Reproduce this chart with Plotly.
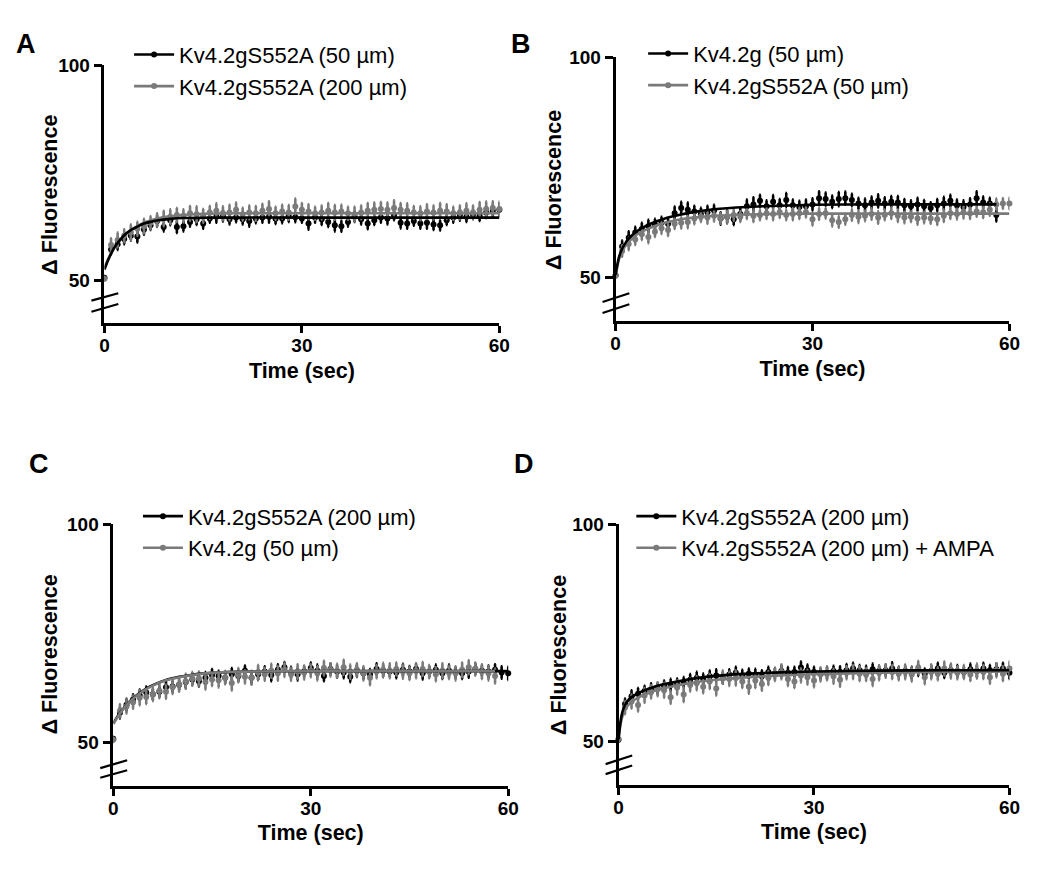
import plotly.graph_objects as go

# ---------------- data ----------------
TIME_61 = list(range(0, 61))   # 0..60 s, 1 s sampling
TIME_59 = list(range(0, 59))   # 0..58 s

# Panel A
A_LABELS = ["Kv4.2gS552A (50 µm)", "Kv4.2gS552A (200 µm)"]
A_black = [50.6, 57.2, 58.4, 59.6, 60.4, 60.2, 61.8, 62.8, 63.8, 62.4,
           64.0, 62.4, 62.6, 63.6, 64.2, 63.2, 64.4, 64.8, 65.0, 64.2,
           64.6, 64.2, 63.8, 64.4, 64.6, 64.8, 64.3, 64.4, 64.9, 64.7,
           64.4, 63.2, 64.6, 64.2, 63.6, 62.8, 62.6, 63.6, 64.8, 64.2,
           63.2, 64.0, 64.6, 64.4, 65.2, 63.4, 63.2, 63.8, 63.2, 63.4,
           63.0, 62.8, 64.0, 64.6, 65.2, 64.8, 65.4, 65.0, 65.8, 66.2,
           66.4]
A_black_err = [0.4, 1.2, 1.3, 1.2, 1.1, 1.4, 1.2, 1.1, 1.3, 1.0,
               1.2, 1.4, 1.2, 1.1, 1.3, 1.2, 1.0, 1.4, 1.3, 1.2,
               1.1, 1.2, 1.3, 1.1, 1.2, 1.4, 1.2, 1.1, 1.3, 1.2,
               1.0, 1.4, 1.2, 1.3, 1.2, 1.4, 1.3, 1.1, 1.2, 1.2,
               1.3, 1.1, 1.2, 1.4, 1.2, 1.3, 1.2, 1.1, 1.2, 1.4,
               1.3, 1.2, 1.1, 1.2, 1.3, 1.2, 1.1, 1.2, 1.3, 1.4,
               1.5]
A_gray = [50.4, 58.2, 59.4, 60.4, 61.2, 62.0, 62.6, 63.4, 64.0, 64.4,
          64.8, 65.2, 65.0, 65.6, 65.4, 65.0, 65.8, 66.2, 65.6, 65.8,
          66.4, 65.4, 65.8, 65.6, 66.2, 66.6, 65.6, 66.0, 65.8, 67.2,
          66.4, 66.0, 65.6, 65.8, 66.2, 65.8, 66.0, 65.6, 65.4, 65.8,
          66.2, 66.4, 66.6, 66.4, 66.8, 66.4, 66.2, 65.8, 65.6, 66.0,
          65.8, 66.2, 66.0, 65.6, 65.8, 66.2, 65.8, 66.4, 66.6, 66.8,
          66.6]
A_gray_err = [0.5, 1.6, 1.7, 1.5, 1.8, 1.6, 1.7, 1.5, 1.6, 1.8,
              1.7, 1.6, 1.5, 1.7, 1.8, 1.6, 1.5, 1.7, 1.6, 1.8,
              1.7, 1.5, 1.6, 1.7, 1.6, 1.8, 1.5, 1.6, 1.7, 1.8,
              1.6, 1.7, 1.5, 1.6, 1.8, 1.7, 1.6, 1.5, 1.7, 1.6,
              1.8, 1.7, 1.6, 1.7, 1.8, 1.6, 1.7, 1.5, 1.6, 1.7,
              1.6, 1.8, 1.7, 1.5, 1.6, 1.7, 1.6, 1.8, 1.7, 1.6,
              1.7]
A_fit_t = [0, 0.5, 1, 1.5, 2, 3, 4, 5, 6, 7, 8, 10, 12, 15, 20, 30, 40, 50, 60]
A_black_fit = [52.5, 54.5, 56.2, 57.6, 58.7, 60.5, 61.7, 62.5, 63.2, 63.6,
               63.9, 64.3, 64.5, 64.55, 64.6, 64.6, 64.6, 64.6, 64.6]
A_gray_fit = [53.0, 54.8, 56.3, 57.6, 58.7, 60.4, 61.7, 62.6, 63.4, 63.9,
              64.4, 64.9, 65.2, 65.5, 65.6, 65.6, 65.6, 65.6, 65.6]

# Panel B
B_LABELS = ["Kv4.2g (50 µm)", "Kv4.2gS552A (50 µm)"]
B_black = [50.5, 57.0, 59.0, 60.2, 61.0, 61.6, 62.0, 62.4, 62.2, 64.6,
           65.8, 65.4, 65.0, 64.4, 64.8, 65.2, 63.4, 63.8, 63.2, 64.4,
           66.2, 66.6, 67.4, 66.2, 67.2, 66.4, 67.6, 66.4, 66.0, 66.2,
           66.6, 68.0, 67.8, 67.2, 67.8, 68.0, 67.6, 66.8, 66.4, 67.0,
           67.4, 66.8, 67.2, 67.0, 66.4, 66.2, 66.6, 66.2, 65.8, 66.4,
           66.8, 67.4, 66.4, 66.0, 66.6, 68.0, 67.0, 66.8, 64.2]
B_black_err = [0.4, 1.4, 1.5, 1.3, 1.4, 1.5, 1.3, 1.4, 1.2, 1.5,
               1.4, 1.6, 1.3, 1.4, 1.5, 1.3, 1.4, 1.5, 1.3, 1.4,
               1.5, 1.6, 1.4, 1.3, 1.5, 1.4, 1.6, 1.3, 1.4, 1.5,
               1.4, 1.6, 1.5, 1.4, 1.6, 1.5, 1.4, 1.3, 1.5, 1.4,
               1.5, 1.4, 1.3, 1.5, 1.4, 1.3, 1.5, 1.4, 1.3, 1.4,
               1.5, 1.4, 1.3, 1.5, 1.4, 1.6, 1.4, 1.3, 1.5]
B_gray = [50.4, 56.0, 57.6, 58.6, 59.8, 59.2, 60.4, 61.2, 60.8, 62.2,
          62.4, 62.6, 63.4, 63.8, 63.6, 64.0, 63.4, 63.8, 64.2, 63.8,
          64.6, 64.0, 64.2, 64.6, 64.4, 64.8, 64.2, 64.4, 64.6, 64.8,
          63.2, 64.4, 64.6, 63.0, 62.6, 63.2, 64.2, 63.8, 64.0, 64.4,
          63.6, 64.2, 64.6, 64.0, 63.6, 63.8, 63.4, 63.6, 63.4, 63.2,
          64.0, 64.6, 64.4, 64.8, 64.6, 65.0, 64.8, 65.4, 66.6, 66.8,
          66.8]
B_gray_err = [0.4, 1.3, 1.4, 1.2, 1.3, 1.4, 1.2, 1.3, 1.4, 1.2,
              1.3, 1.4, 1.3, 1.2, 1.4, 1.3, 1.2, 1.4, 1.3, 1.2,
              1.3, 1.4, 1.2, 1.3, 1.4, 1.3, 1.2, 1.4, 1.3, 1.2,
              1.4, 1.3, 1.2, 1.4, 1.3, 1.2, 1.3, 1.4, 1.2, 1.3,
              1.4, 1.2, 1.3, 1.4, 1.3, 1.2, 1.4, 1.3, 1.2, 1.3,
              1.4, 1.3, 1.2, 1.4, 1.3, 1.2, 1.3, 1.4, 1.3, 1.2,
              1.3]
B_black_fit_t = [0, 0.5, 1, 1.5, 2, 3, 4, 5, 6, 7, 8, 10, 12, 15, 20, 25, 30, 40, 50, 58]
B_black_fit = [50.6, 54.5, 56.5, 57.8, 58.8, 60.2, 61.2, 62.0, 62.6, 63.1,
               63.6, 64.3, 64.9, 65.5, 66.0, 66.3, 66.5, 66.6, 66.6, 66.6]
B_gray_fit_t = [0, 0.5, 1, 1.5, 2, 3, 4, 5, 6, 7, 8, 10, 12, 15, 20, 25, 30, 40, 50, 60]
B_gray_fit = [50.4, 54.0, 55.9, 57.2, 58.1, 59.5, 60.4, 61.1, 61.7, 62.2,
              62.6, 63.2, 63.6, 64.0, 64.3, 64.4, 64.5, 64.5, 64.5, 64.5]

# Panel C
C_LABELS = ["Kv4.2gS552A (200 µm)", "Kv4.2g (50 µm)"]
C_black = [50.8, 56.8, 58.6, 59.8, 60.8, 61.4, 61.0, 61.6, 62.6, 62.8,
           63.2, 63.8, 64.4, 64.0, 64.8, 65.4, 65.2, 64.8, 65.6, 65.2,
           66.4, 64.8, 65.6, 66.2, 65.4, 66.6, 67.2, 66.0, 65.6, 66.2,
           67.0, 66.4, 65.2, 66.8, 66.2, 66.0, 65.0, 66.4, 65.8, 65.6,
           66.8, 66.4, 66.2, 66.0, 66.6, 66.2, 66.8, 65.8, 66.2, 66.6,
           65.8, 66.4, 66.0, 65.8, 66.2, 66.8, 66.4, 66.2, 66.6, 66.0,
           65.8]
C_black_err = [0.4, 1.3, 1.4, 1.2, 1.3, 1.4, 1.3, 1.2, 1.4, 1.3,
               1.2, 1.4, 1.3, 1.2, 1.3, 1.4, 1.2, 1.3, 1.4, 1.3,
               1.2, 1.4, 1.3, 1.2, 1.4, 1.3, 1.2, 1.3, 1.4, 1.2,
               1.3, 1.4, 1.2, 1.3, 1.4, 1.3, 1.2, 1.4, 1.3, 1.2,
               1.3, 1.4, 1.2, 1.3, 1.4, 1.3, 1.2, 1.4, 1.3, 1.2,
               1.3, 1.4, 1.2, 1.3, 1.4, 1.3, 1.2, 1.4, 1.3, 1.4,
               1.5]
C_gray = [50.6, 57.2, 58.2, 59.2, 60.2, 60.4, 61.0, 61.8, 61.6, 62.6,
          63.2, 64.0, 64.6, 64.6, 63.8, 64.4, 64.2, 64.8, 63.6, 65.4,
          65.0, 64.8, 66.0, 65.6, 66.4, 65.8, 66.6, 65.6, 66.2, 66.0,
          66.4, 65.8, 67.0, 66.6, 66.4, 67.2, 66.2, 66.6, 65.8, 64.8,
          66.2, 66.6, 66.4, 66.8, 66.2, 65.8, 66.4, 66.8, 66.2, 65.6,
          66.4, 66.0, 65.8, 66.6, 67.2, 66.8, 66.2, 65.8, 65.2]
C_gray_err = [0.5, 1.5, 1.6, 1.5, 1.7, 1.6, 1.5, 1.7, 1.6, 1.5,
              1.6, 1.7, 1.5, 1.6, 1.7, 1.5, 1.6, 1.5, 1.7, 1.6,
              1.5, 1.6, 1.7, 1.5, 1.6, 1.7, 1.6, 1.5, 1.7, 1.6,
              1.5, 1.6, 1.7, 1.5, 1.6, 1.7, 1.6, 1.5, 1.6, 1.7,
              1.5, 1.6, 1.7, 1.5, 1.6, 1.5, 1.7, 1.6, 1.5, 1.6,
              1.7, 1.5, 1.6, 1.7, 1.6, 1.5, 1.7, 1.6, 1.7]
C_black_fit_t = [0, 1, 2, 3, 4, 5, 6, 8, 10, 12, 15, 20, 30, 45, 60]
C_black_fit = [54.4, 56.7, 58.6, 60.1, 61.3, 62.3, 63.1, 64.3, 65.0, 65.5,
               65.9, 66.2, 66.3, 66.3, 66.3]
C_gray_fit_t = [0, 1, 2, 3, 4, 5, 6, 8, 10, 12, 15, 20, 30, 45, 58]
C_gray_fit = [54.2, 56.6, 58.5, 60.0, 61.2, 62.2, 63.0, 64.2, 64.9, 65.4,
              65.9, 66.2, 66.3, 66.3, 66.3]

# Panel D
D_LABELS = ["Kv4.2gS552A (200 µm)", "Kv4.2gS552A (200 µm) + AMPA"]
D_black = [50.4, 58.6, 60.4, 61.0, 61.6, 62.0, 62.2, 62.8, 63.0, 63.2,
           63.6, 64.2, 64.6, 64.4, 65.0, 65.2, 64.6, 65.4, 65.8, 65.2,
           65.6, 65.4, 65.0, 66.0, 65.6, 66.2, 65.8, 66.0, 67.0, 66.4,
           66.0, 65.6, 65.8, 66.2, 66.0, 66.4, 66.8, 66.4, 66.0, 66.6,
           66.2, 66.4, 66.8, 66.0, 66.2, 65.8, 66.4, 65.6, 66.2, 66.8,
           65.8, 66.4, 66.2, 66.0, 66.6, 66.2, 66.8, 66.4, 66.6, 66.8,
           65.8]
D_black_err = [0.4, 1.3, 1.4, 1.3, 1.2, 1.4, 1.3, 1.2, 1.4, 1.3,
               1.2, 1.3, 1.4, 1.2, 1.3, 1.4, 1.3, 1.2, 1.4, 1.3,
               1.2, 1.3, 1.4, 1.2, 1.3, 1.4, 1.3, 1.2, 1.4, 1.3,
               1.2, 1.3, 1.4, 1.2, 1.3, 1.4, 1.3, 1.2, 1.4, 1.3,
               1.2, 1.3, 1.4, 1.2, 1.3, 1.4, 1.3, 1.2, 1.4, 1.3,
               1.2, 1.3, 1.4, 1.2, 1.3, 1.4, 1.3, 1.2, 1.4, 1.3,
               1.4]
D_gray = [50.6, 57.8, 59.2, 58.4, 60.6, 61.4, 62.0, 61.8, 60.2, 62.4,
          60.8, 63.0, 63.4, 62.6, 63.8, 62.2, 64.8, 64.4, 64.6, 63.8,
          62.6, 64.0, 63.2, 64.6, 65.4, 66.0, 64.4, 63.8, 65.2, 64.8,
          64.0, 65.4, 65.6, 65.0, 64.2, 65.8, 66.0, 65.6, 65.4, 64.4,
          65.8, 66.2, 66.0, 65.6, 66.0, 65.4, 67.0, 64.8, 66.0, 65.6,
          66.8, 66.2, 65.8, 66.0, 65.4, 66.2, 66.0, 64.8, 66.4, 65.6,
          66.8]
D_gray_err = [0.5, 1.5, 1.6, 1.5, 1.7, 1.5, 1.6, 1.7, 1.5, 1.6,
              1.7, 1.5, 1.6, 1.5, 1.7, 1.6, 1.5, 1.6, 1.7, 1.5,
              1.6, 1.7, 1.5, 1.6, 1.5, 1.7, 1.6, 1.5, 1.6, 1.7,
              1.5, 1.6, 1.5, 1.7, 1.6, 1.5, 1.6, 1.7, 1.5, 1.6,
              1.7, 1.5, 1.6, 1.5, 1.7, 1.6, 1.5, 1.6, 1.7, 1.5,
              1.6, 1.7, 1.5, 1.6, 1.5, 1.7, 1.6, 1.5, 1.6, 1.7,
              1.6]
D_fit_t = [0, 0.3, 0.6, 1, 1.5, 2, 3, 4, 5, 6, 8, 10, 12, 15, 20, 25, 30, 40, 50, 60]
D_black_fit = [50.5, 54.5, 56.8, 58.4, 59.5, 60.2, 61.1, 61.8, 62.3, 62.8,
               63.5, 64.1, 64.6, 65.1, 65.6, 65.9, 66.1, 66.3, 66.4, 66.4]
D_gray_fit = [50.5, 53.8, 55.8, 57.3, 58.4, 59.1, 60.1, 60.8, 61.4, 61.9,
              62.6, 63.2, 63.7, 64.2, 64.8, 65.2, 65.5, 65.8, 66.0, 66.1]

PANEL_LETTERS = ["A", "B", "C", "D"]
X_TICKS = [0, 30, 60]
Y_TICKS = [50, 100]
X_TITLE = "Time (sec)"
Y_TITLE = "Δ Fluorescence"

# ---------------- styling / layout ----------------
BLACK = "#000000"
GRAY = "#7a7a7a"
FONT = "Liberation Sans, Arial, Helvetica, sans-serif"
W, H = 1050, 872

panels = [
    dict(letter=PANEL_LETTERS[0], labels=A_LABELS,
         black=(TIME_61, A_black, A_black_err), gray=(TIME_61, A_gray, A_gray_err),
         bfit=(A_fit_t, A_black_fit), gfit=(A_fit_t, A_gray_fit), fit_order="gb",
         dom_px=(101, 502, 56, 317), leg_px=(126, 24), letter_px=(21, 34),
         ytitle_px=(45.5, 187), brk=((45.3, 47.0), (42.7, 44.5))),
    dict(letter=PANEL_LETTERS[1], labels=B_LABELS,
         black=(TIME_59, B_black, B_black_err), gray=(TIME_61, B_gray, B_gray_err),
         bfit=(B_black_fit_t, B_black_fit), gfit=(B_gray_fit_t, B_gray_fit), fit_order="gb",
         dom_px=(620, 1020, 48, 315), leg_px=(648, 23), letter_px=(524, 34),
         ytitle_px=(557.5, 182), brk=((44.4, 46.4), (41.9, 43.9))),
    dict(letter=PANEL_LETTERS[2], labels=C_LABELS,
         black=(TIME_61, C_black, C_black_err), gray=(TIME_59, C_gray, C_gray_err),
         bfit=(C_black_fit_t, C_black_fit), gfit=(C_gray_fit_t, C_gray_fit), fit_order="bg",
         dom_px=(110, 511, 520, 785), leg_px=(135, 491), letter_px=(35, 459),
         ytitle_px=(45.5, 652), brk=((44.1, 45.9), (41.9, 43.6))),
    dict(letter=PANEL_LETTERS[3], labels=D_LABELS,
         black=(TIME_61, D_black, D_black_err), gray=(TIME_61, D_gray, D_gray_err),
         bfit=(D_fit_t, D_black_fit), gfit=(D_fit_t, D_gray_fit), fit_order="gb",
         dom_px=(623, 1020, 520, 784), leg_px=(636, 491), letter_px=(527, 459),
         ytitle_px=(562, 652), brk=((44.8, 46.8), (42.5, 44.5))),
]

fig = go.Figure()
layout = dict(
    width=W, height=H, margin=dict(l=0, r=0, t=0, b=0),
    paper_bgcolor="white", plot_bgcolor="white",
    font=dict(family=FONT, color=BLACK),
    annotations=[], shapes=[],
)

for i, p in enumerate(panels):
    n = i + 1
    sfx = "" if n == 1 else str(n)
    xa, ya = "x" + sfx, "y" + sfx
    legname = "legend" + sfx
    x0, x1, y0, y1 = p["dom_px"]

    def data_trace(series, color):
        t, v, e = series
        return go.Scatter(
            x=t, y=v, xaxis=xa, yaxis=ya, mode="markers", showlegend=False,
            marker=dict(color=color, size=6),
            error_y=dict(type="data", array=e, visible=True, color=color,
                         thickness=2.6, width=0.8),
            cliponaxis=False, hoverinfo="skip")

    def fit_trace(series, color):
        t, v = series
        return go.Scatter(
            x=t, y=v, xaxis=xa, yaxis=ya, mode="lines", showlegend=False,
            line=dict(color=color, width=2.6, shape="spline", smoothing=0.6),
            cliponaxis=False, hoverinfo="skip")

    fig.add_trace(data_trace(p["black"], BLACK))
    fig.add_trace(data_trace(p["gray"], GRAY))
    fits = {"b": fit_trace(p["bfit"], BLACK), "g": fit_trace(p["gfit"], GRAY)}
    for k in p["fit_order"]:
        fig.add_trace(fits[k])

    # legend entries (line with a dot, as in the reference)
    for lab, col in zip(p["labels"], [BLACK, GRAY]):
        fig.add_trace(go.Scatter(
            x=[None], y=[None], xaxis=xa, yaxis=ya, mode="lines+markers",
            name=lab, legend=legname,
            line=dict(color=col, width=2.6), marker=dict(color=col, size=6)))

    layout[legname] = dict(
        x=p["leg_px"][0] / W, y=1 - p["leg_px"][1] / H,
        xanchor="left", yanchor="top", bgcolor="rgba(0,0,0,0)",
        font=dict(family=FONT, size=22, color=BLACK),
        itemwidth=40, tracegroupgap=0)

    layout["xaxis" + sfx] = dict(
        domain=[x0 / W, x1 / W], anchor=ya, range=[0, 60],
        tickmode="array", tickvals=X_TICKS, ticks="outside", ticklen=7,
        tickwidth=2.5, tickcolor=BLACK, showline=True, linewidth=2.6,
        linecolor=BLACK, showgrid=False, zeroline=False, ticklabelstandoff=-4,
        tickfont=dict(family=FONT, size=19, color=BLACK, weight="bold"),
        title=dict(text=X_TITLE, standoff=8,
                   font=dict(family=FONT, size=21.5, color=BLACK, weight="bold")))
    layout["yaxis" + sfx] = dict(
        domain=[1 - y1 / H, 1 - y0 / H], anchor=xa, range=[40, 100],
        tickmode="array", tickvals=Y_TICKS, ticks="outside", ticklen=8,
        tickwidth=2.5, tickcolor=BLACK, showline=True, linewidth=2.6,
        linecolor=BLACK, showgrid=False, zeroline=False,
        tickfont=dict(family=FONT, size=19, color=BLACK, weight="bold"))

    # y-axis title (rotated text placed as in the reference)
    layout["annotations"].append(dict(
        text=Y_TITLE, textangle=-90, xref="paper", yref="paper",
        x=p["ytitle_px"][0] / W, y=1 - p["ytitle_px"][1] / H,
        xanchor="center", yanchor="middle", showarrow=False,
        font=dict(family=FONT, size=21.5, color=BLACK, weight="bold")))

    # axis-break marks on the y axis
    for (ya0, ya1) in p["brk"]:
        layout["shapes"].append(dict(
            type="line", xref=xa + " domain", yref=ya,
            x0=-0.033, x1=0.035, y0=ya0, y1=ya1,
            line=dict(color=BLACK, width=2.2)))

    # panel letter
    layout["annotations"].append(dict(
        text=p["letter"], xref="paper", yref="paper",
        x=p["letter_px"][0] / W, y=1 - p["letter_px"][1] / H,
        xanchor="center", yanchor="middle", showarrow=False,
        font=dict(family=FONT, size=27, color=BLACK, weight="bold")))

fig.update_layout(**layout)
fig.write_html(
    "out.html", config={"displayModeBar": False},
    post_script="document.body.style.margin='0px';"
                "document.body.style.overflow='hidden';")
